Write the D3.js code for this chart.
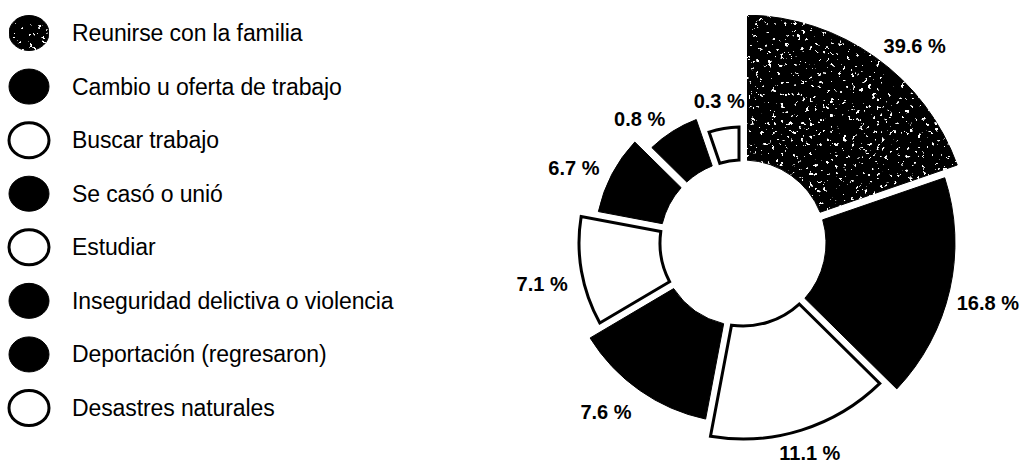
<!DOCTYPE html>
<html lang="es">

<head>
    <meta charset="UTF-8">
    <title>Motivos de migración</title>
    <script src="https://d3js.org/d3.v7.min.js"></script>
    <style>
        body {
            margin: 0;
            background: #ffffff;
        }

        text {
            font-family: "Liberation Sans", Arial, sans-serif;
            fill: #000;
        }
    </style>
</head>

<body>
    <svg id="chart" width="1021" height="465"></svg>

    <script>
        // data
        const categories = [
            "Reunirse con la familia",
            "Cambio u oferta de trabajo",
            "Buscar trabajo",
            "Se casó o unió",
            "Estudiar",
            "Inseguridad delictiva o violencia",
            "Deportación (regresaron)",
            "Desastres naturales"
        ];
        const values = [39.6, 16.8, 11.1, 7.6, 7.1, 6.7, 0.8, 0.3];
        const labels = values.map(v => v.toFixed(1) + " %");

        // how each slice is painted: speckled, solid black, or outlined
        const looks = ["speckle", "solid", "outline", "solid", "outline", "solid", "solid", "outline"];

        const svg = d3.select("#chart");
        const width = +svg.attr("width");
        const height = +svg.attr("height");
        const n = values.length;

        // speckle texture for the first slice (scanned grey)
        const defs = svg.append("defs");
        const f = defs.append("filter").attr("id", "speckle")
            .attr("x", "0%").attr("y", "0%").attr("width", "100%").attr("height", "100%");
        f.append("feTurbulence")
            .attr("type", "fractalNoise")
            .attr("baseFrequency", 0.24)
            .attr("numOctaves", 3)
            .attr("seed", 7)
            .attr("result", "noise");
        f.append("feColorMatrix")
            .attr("in", "noise")
            .attr("type", "matrix")
            .attr("values", "0 0 0 0 1  0 0 0 0 1  0 0 0 0 1  24 0 0 0 -16.2")
            .attr("result", "spots");
        f.append("feComposite")
            .attr("in", "spots").attr("in2", "SourceGraphic")
            .attr("operator", "in").attr("result", "clipped");
        const merge = f.append("feMerge");
        merge.append("feMergeNode").attr("in", "SourceGraphic");
        merge.append("feMergeNode").attr("in", "clipped");

        const fillFor = k => k === "outline" ? "#fff" : "#000";

        // ---- legend ----
        const legendY = d3.scalePoint().domain(d3.range(n)).range([33, 408]);
        const legend = svg.append("g").attr("class", "legend");
        const rows = legend.selectAll("g")
            .data(categories)
            .join("g")
            .attr("transform", (d, i) => `translate(0,${legendY(i)})`);

        rows.append("ellipse")
            .attr("cx", 29)
            .attr("cy", 0)
            .attr("rx", 20)
            .attr("ry", 17.5)
            .attr("fill", (d, i) => fillFor(looks[i]))
            .attr("stroke", "#000")
            .attr("stroke-width", (d, i) => looks[i] === "outline" ? 3 : 1)
            .attr("filter", (d, i) => looks[i] === "speckle" ? "url(#speckle)" : null);

        rows.append("text")
            .attr("x", 72)
            .attr("y", 0)
            .attr("dy", "0.35em")
            .attr("font-size", 23)
            .attr("letter-spacing", -0.1)
            .text(d => d);

        // ---- spiral donut ----
        // slice sweep and outer radius both shrink with rank, as drawn in the source
        const sweep = d3.scaleLinear().domain([0, n - 1]).range([71, 19]);
        const outer = d3.scaleLinear().domain([0, n - 1]).range([228, 116]);
        const inner = 83;
        const cx = 743, cy = 243;
        const toRad = Math.PI / 180;

        let acc = 0;
        const slices = values.map((v, i) => {
            const s = acc;
            acc += sweep(i);
            return { value: v, index: i, label: labels[i], startAngle: s * toRad, endAngle: acc * toRad };
        });

        const arc = d3.arc()
            .innerRadius(inner)
            .outerRadius(d => outer(d.index))
            .padAngle(0.08)
            .padRadius(100);

        // labels: beside the slice on the sides, centred above/below near the vertical
        const midSin = d => Math.sin((d.startAngle + d.endAngle) / 2);
        const sideways = d => Math.abs(midSin(d)) > 0.35;
        const labelPos = d => {
            const r = outer(d.index) + (sideways(d) ? 14 : 28);
            const p = d3.arc().innerRadius(r).outerRadius(r).centroid(d);
            // lower labels sit a bit further down, as in the source
            if (sideways(d) && p[1] > 0) p[1] += 10;
            p[1] = Math.min(p[1], height - 12 - cy);
            return p;
        };

        const pie = svg.append("g").attr("transform", `translate(${cx},${cy})`);

        pie.selectAll("path")
            .data(slices)
            .join("path")
            .attr("d", arc)
            .attr("fill", d => fillFor(looks[d.index]))
            .attr("stroke", "#000")
            .attr("stroke-width", d => looks[d.index] === "outline" ? 3 : 1)
            .attr("stroke-linejoin", "miter")
            .attr("filter", d => looks[d.index] === "speckle" ? "url(#speckle)" : null);

        pie.selectAll("text")
            .data(slices)
            .join("text")
            .attr("x", d => labelPos(d)[0])
            .attr("y", d => labelPos(d)[1])
            .attr("dy", "0.35em")
            .attr("text-anchor", d => !sideways(d) ? "middle" : (midSin(d) > 0 ? "start" : "end"))
            .attr("font-size", 20)
            .attr("font-weight", "bold")
            .text(d => d.label)
            .each(function (d) {
                // pull a right-hand label back inside the frame
                if (!sideways(d) || midSin(d) <= 0) return;
                const w = this.getComputedTextLength();
                const x = +this.getAttribute("x");
                if (cx + x + w > width - 2) this.setAttribute("x", width - 2 - cx - w);
            });
    </script>
</body>

</html>
